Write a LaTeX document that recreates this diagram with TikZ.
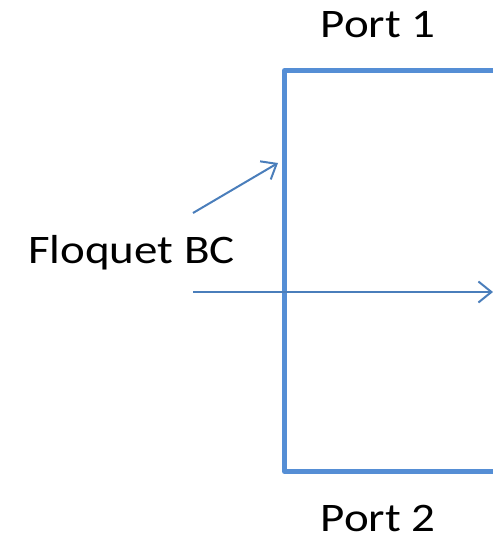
\documentclass[tikz,border=0pt]{standalone}
\usepackage{fontspec}
\setmainfont{Carlito}
\usetikzlibrary{positioning,arrows.meta}

\definecolor{portblue}{RGB}{85,142,213}
\definecolor{arrowblue}{RGB}{74,126,187}

\newcommand{\widetext}[1]{\scalebox{1.16}[1]{#1}}

\tikzset{
    wall/.style={draw=portblue, line width=5pt, line join=round},
    bcarrow/.style={draw=arrowblue, line width=2pt,
        -{Straight Barb[length=13pt,width=21pt,line width=2pt]}},
    label/.style={font=\fontsize{40.5}{46}\selectfont, inner sep=0pt, anchor=base}
}

\begin{document}
\begin{tikzpicture}[x=1pt,y=1pt]
    \useasboundingbox (0,0) rectangle (493,536);
    % port walls
    \coordinate (tr) at (493,465.5);
    \coordinate (tl) at (284.5,465.5);
    \coordinate (bl) at (284.5,64.5);
    \coordinate (br) at (493,64.5);
    \draw[wall] (tr) -- (tl) -- (bl) -- (br);
    % labels
    \node[label] (port1) at (378,498) {\widetext{Port 1}};
    \node[label] (port2) at (378,5) {\widetext{Port 2}};
    \node[label] (floquet) at (131.5,272) {\widetext{Floquet BC}};
    % arrows
    \coordinate (a1s) at (193,323);
    \coordinate (a1e) at (278,373);
    \coordinate (a2s) at (193,244);
    \coordinate (a2e) at (493,244);
    \draw[bcarrow] (a1s) -- (a1e);
    \draw[bcarrow] (a2s) -- (a2e);
\end{tikzpicture}
\end{document}
